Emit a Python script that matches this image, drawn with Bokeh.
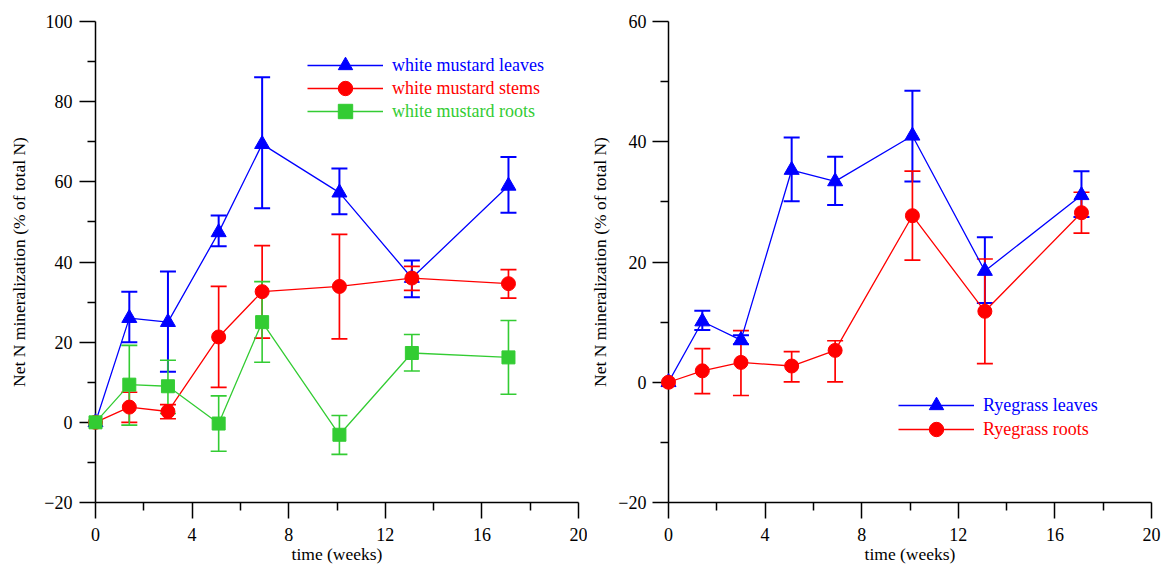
from bokeh.plotting import figure
from bokeh.models import (ColumnDataSource, Whisker, TeeHead, FixedTicker,
                          Legend, LegendItem, Range1d)
from bokeh.layouts import row
from bokeh.embed import file_html
from bokeh.resources import INLINE

# ---------------- data ----------------
weeks = [0, 1.4, 3.0, 5.1, 6.9, 10.1, 13.1, 17.1]

wm_leaves = [0, 26.0, 25.0, 47.4, 69.4, 57.3, 36.0, 59.0]
wm_leaves_lo = [0, 20.0, 12.6, 43.9, 53.4, 51.9, 31.2, 52.3]
wm_leaves_hi = [0, 32.6, 37.6, 51.6, 86.1, 63.3, 40.4, 66.2]

wm_stems = [0, 3.8, 2.7, 21.3, 32.6, 33.9, 36.0, 34.6]
wm_stems_lo = [0, 0.0, 0.9, 8.7, 21.0, 20.8, 32.9, 31.0]
wm_stems_hi = [0, 7.5, 4.4, 33.9, 44.1, 46.9, 38.9, 38.1]

wm_roots = [0, 9.4, 9.0, -0.3, 25.0, -3.1, 17.3, 16.2]
wm_roots_lo = [0, -0.7, 2.2, -7.2, 15.0, -8.0, 12.8, 7.0]
wm_roots_hi = [0, 19.2, 15.5, 6.6, 35.1, 1.7, 21.9, 25.4]

rg_leaves = [0, 10.1, 7.0, 35.3, 33.4, 41.0, 18.5, 31.1]
rg_leaves_lo = [0, 8.7, 6.3, 30.1, 29.5, 33.4, 13.2, 27.5]
rg_leaves_hi = [0, 11.9, 7.8, 40.7, 37.5, 48.5, 24.1, 35.1]

rg_roots = [0, 1.9, 3.3, 2.7, 5.3, 27.7, 11.8, 28.2]
rg_roots_lo = [0, -1.9, -2.2, 0.05, 0.05, 20.3, 3.1, 24.8]
rg_roots_hi = [0, 5.6, 8.6, 5.1, 6.9, 35.1, 20.5, 31.6]

x_major = [0, 4, 8, 12, 16, 20]
x_minor = [2, 6, 10, 14, 18]
y1_major = [-20, 0, 20, 40, 60, 80, 100]
y1_minor = [-10, 10, 30, 50, 70, 90]
y2_major = [-20, 0, 20, 40, 60]
y2_minor = [-10, 10, 30, 50]

BLUE = "#0000ff"
RED = "#ff0000"
GREEN = "#33cc33"
FONT = "Liberation Serif"


def make_fig(width, yr, ymaj, ymin, border_left, border_right, lab_standoff, ax_standoff):
    p = figure(width=width, height=566, output_backend="svg", toolbar_location=None,
               x_range=Range1d(0, 20), y_range=Range1d(*yr),
               min_border_left=border_left, min_border_right=border_right,
               min_border_top=21, min_border_bottom=63)
    p.outline_line_color = None
    p.grid.visible = False
    p.background_fill_color = "white"
    p.border_fill_color = "white"
    p.xaxis.ticker = FixedTicker(ticks=x_major, minor_ticks=x_minor)
    p.yaxis.ticker = FixedTicker(ticks=ymaj, minor_ticks=ymin)
    for ax in (p.xaxis[0], p.yaxis[0]):
        ax.axis_line_width = 1.5
        ax.major_tick_line_width = 1.5
        ax.minor_tick_line_width = 1.5
        ax.major_tick_in = 0
        ax.minor_tick_in = 0
        ax.major_tick_out = 16
        ax.minor_tick_out = 8
        ax.major_label_text_font = FONT
        ax.major_label_text_font_size = "18px"
        ax.major_label_text_color = "black"
        ax.axis_label_text_font = FONT
        ax.axis_label_text_font_size = "17.5px"
        ax.axis_label_text_font_style = "normal"
        ax.axis_label_text_color = "black"
    p.xaxis.major_label_standoff = 9
    p.xaxis.axis_label_standoff = 0
    p.yaxis.major_label_standoff = lab_standoff
    p.yaxis.axis_label_standoff = ax_standoff
    p.xaxis.axis_label = "time (weeks)"
    p.yaxis.axis_label = "Net N mineralization (% of total N)"
    return p


def add_series(p, y, lo, hi, color, marker, msize, ewidth):
    src = ColumnDataSource(dict(x=weeks, y=y))
    esrc = ColumnDataSource(dict(x=weeks[1:], lo=lo[1:], hi=hi[1:]))
    w = Whisker(source=esrc, base="x", lower="lo", upper="hi",
                line_color=color, line_width=ewidth,
                upper_head=TeeHead(size=16, line_color=color, line_width=ewidth),
                lower_head=TeeHead(size=16, line_color=color, line_width=ewidth))
    p.add_layout(w)
    lr = p.line("x", "y", source=src, line_color=color, line_width=1.3)
    mr = p.scatter("x", "y", source=src, marker=marker, size=msize,
                   fill_color=color, line_color=color)
    mr.level = "overlay"
    return lr, mr


def add_legend(p, label, renderers, color, loc):
    leg = Legend(items=[LegendItem(label=label, renderers=list(renderers))],
                 location=loc, glyph_width=76, glyph_height=36, label_height=36,
                 label_standoff=9, padding=0, margin=0, spacing=0,
                 border_line_color=None, background_fill_alpha=0,
                 label_text_font=FONT, label_text_font_size="18px",
                 label_text_color=color)
    p.add_layout(leg)


# ---------------- left panel ----------------
p1 = make_fig(587, (-20, 100), y1_major, y1_minor, 95, 9, 7, 12)
rs_leaves = add_series(p1, wm_leaves, wm_leaves_lo, wm_leaves_hi, BLUE, "triangle", 15, 2)
rs_stems = add_series(p1, wm_stems, wm_stems_lo, wm_stems_hi, RED, "circle", 14, 1.7)
rs_roots = add_series(p1, wm_roots, wm_roots_lo, wm_roots_hi, GREEN, "square", 13, 1.6)
add_legend(p1, "white mustard leaves", rs_leaves, BLUE, (212, 419))
add_legend(p1, "white mustard stems", rs_stems, RED, (212, 396))
add_legend(p1, "white mustard roots", rs_roots, GREEN, (212, 373))

# ---------------- right panel ----------------
p2 = make_fig(577, (-20, 60), y2_major, y2_minor, 81, 13, 6, 5)
rr_leaves = add_series(p2, rg_leaves, rg_leaves_lo, rg_leaves_hi, BLUE, "triangle", 15, 2)
rr_roots = add_series(p2, rg_roots, rg_roots_lo, rg_roots_hi, RED, "circle", 14, 1.7)
add_legend(p2, "Ryegrass leaves", rr_leaves, BLUE, (230, 79))
add_legend(p2, "Ryegrass roots", rr_roots, RED, (230, 55))

layout = row(p1, p2)
open("out.html", "w").write(file_html(layout, INLINE))
